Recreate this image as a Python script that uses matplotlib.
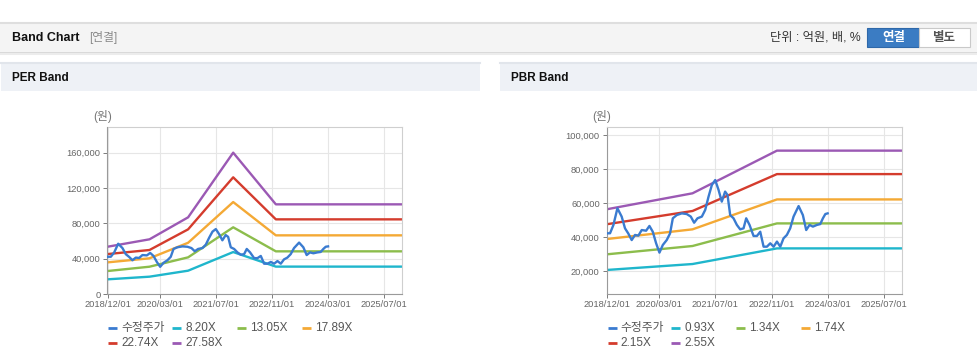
import matplotlib
matplotlib.use("Agg")
import matplotlib.pyplot as plt
import matplotlib.dates as mdates
from matplotlib.patches import Rectangle
from matplotlib.lines import Line2D
import numpy as np
import pandas as pd

plt.rcParams['font.family'] = ['Liberation Sans', 'Noto Sans CJK KR', 'DejaVu Sans']

# ---------------- data ----------------
price_dates = ["2018-12-01", "2018-12-30", "2019-01-28", "2019-03-04", "2019-04-10", "2019-05-09",
               "2019-06-07", "2019-07-06", "2019-08-04", "2019-09-02", "2019-10-01", "2019-11-08",
               "2019-12-07", "2020-01-05", "2020-02-03", "2020-03-03", "2020-04-01", "2020-05-05",
               "2020-06-03", "2020-06-27", "2020-07-31", "2020-09-13", "2020-10-26", "2020-11-30",
               "2020-12-29", "2021-01-27", "2021-03-06", "2021-04-04", "2021-05-03", "2021-06-01",
               "2021-06-30", "2021-07-29", "2021-08-26", "2021-09-24", "2021-10-15", "2021-11-07",
               "2021-12-06", "2022-01-04", "2022-02-02", "2022-03-03", "2022-03-26", "2022-04-24",
               "2022-05-29", "2022-06-27", "2022-07-26", "2022-08-24", "2022-09-22", "2022-10-21",
               "2022-11-19", "2022-12-18", "2023-01-16", "2023-02-13", "2023-03-14", "2023-04-12",
               "2023-05-11", "2023-06-24", "2023-07-31", "2023-08-29", "2023-09-27", "2023-10-26",
               "2023-11-30", "2023-12-29", "2024-01-21", "2024-02-11", "2024-03-02"]
price_values = [42160, 42200, 47000, 56900, 52000, 45100, 42000, 38200, 41200, 40800, 44100, 43700,
                46500, 43100, 36300, 30800, 35300, 38200, 42100, 51000, 52900, 53900, 53500, 52000,
                48400, 51000, 52000, 55900, 63700, 70600, 73500, 67700, 60800, 66700, 64700, 52900,
                51000, 47100, 44500, 45100, 51000, 47100, 40600, 40600, 43100, 34300, 34300, 36300,
                34300, 37300, 34300, 39200, 41200, 45100, 52000, 58200, 52900, 44100, 47100, 46100,
                47100, 47600, 51000, 53500, 53900]

per_band_dates = ["2018-12-01", "2019-12-01", "2020-11-01", "2021-11-28", "2022-12-04", "2025-12-31"]
per_labels = ["8.20X", "13.05X", "17.89X", "22.74X", "27.58X"]
per_820 = [16600, 19600, 26400, 47500, 31000, 31000]
per_1305 = [26000, 30900, 41500, 75500, 48300, 48300]
per_1789 = [35800, 40400, 58000, 104100, 66400, 66400]
per_2274 = [45200, 49800, 73200, 132100, 84500, 84500]
per_2758 = [53500, 61900, 86800, 160000, 101500, 101500]

pbr_band_dates = ["2018-12-01", "2020-12-15", "2022-12-18", "2025-12-31"]
pbr_labels = ["0.93X", "1.34X", "1.74X", "2.15X", "2.55X"]
pbr_093 = [20600, 24100, 33300, 33300]
pbr_134 = [29800, 34700, 48000, 48000]
pbr_174 = [38800, 44500, 62100, 62100]
pbr_215 = [47500, 55300, 77000, 77000]
pbr_255 = [56300, 65700, 90800, 90800]

x_ticks = ["2018-12-01", "2020-03-01", "2021-07-01", "2022-11-01", "2024-03-01", "2025-07-01"]
per_yticks = [0, 40000, 80000, 120000, 160000]
pbr_yticks = [20000, 40000, 60000, 80000, 100000]

price_label = "수정주가"
band_colors = ["#1fb6cc", "#8cbd4c", "#f4a935", "#d43c2d", "#9b59b4"]
price_color = "#3a7bd0"

# ---------------- figure ----------------
W, H = 978, 361
fig = plt.figure(figsize=(W / 100, H / 100), dpi=100)
fig.patch.set_facecolor("white")


def fx(x):
    return x / W


def fy(y):
    return 1 - y / H


def rect(x0, y0, x1, y1, fc, ec="none", lw=0, z=0):
    fig.add_artist(Rectangle((fx(x0), fy(y1)), fx(x1) - fx(x0), fy(y0) - fy(y1),
                             transform=fig.transFigure, facecolor=fc, edgecolor=ec,
                             linewidth=lw, zorder=z))


def hline(x0, x1, y, color, lw=1, z=1):
    fig.add_artist(Line2D([fx(x0), fx(x1)], [fy(y), fy(y)], transform=fig.transFigure,
                          color=color, linewidth=lw, zorder=z))


# top bar
rect(0, 22, W, 52, "#f4f4f4")
hline(0, W, 22.5, "#dedede", 1.5)
hline(0, W, 52.5, "#d2d2d2", 1.2)
hline(0, W, 54, "#ececec", 1.5)
fig.text(fx(12), fy(38), "Band Chart", fontsize=9, fontweight="bold", color="#111111",
         va="center", ha="left")
fig.text(fx(89), fy(38), "[연결]", fontsize=8.5, color="#8a8a8a", va="center", ha="left")
fig.text(fx(861), fy(38), "단위 : 억원, 배, %", fontsize=8.8, color="#333333", va="center", ha="right")
rect(867.5, 27.5, 919, 46.5, "#3b7cc3", ec="#2e68a9", lw=0.8, z=2)
rect(919, 27.5, 969.5, 46.5, "#ffffff", ec="#c9c9c9", lw=0.8, z=2)
fig.text(fx(893.5), fy(37.5), "연결", fontsize=9, fontweight="bold", color="white",
         va="center", ha="center", zorder=3)
fig.text(fx(944), fy(37.5), "별도", fontsize=9, fontweight="bold", color="#555555",
         va="center", ha="center", zorder=3)

# panel headers
for (x0, x1, title) in [(1, 480, "PER Band"), (500, W, "PBR Band")]:
    rect(x0, 62, x1, 91, "#eef1f6")
    hline(x0, x1, 62.5, "#e1e5eb", 1.5)
    fig.text(fx(x0 + 11), fy(78), title, fontsize=8.5, fontweight="bold", color="#111111",
             va="center", ha="left")

xt = pd.to_datetime(x_ticks)
xmin = pd.Timestamp("2018-12-01")
xmax = pd.Timestamp("2025-12-05")


def make_axes(left_px, right_px, ylim, yticks, band_dates, bands, labels):
    ax = fig.add_axes([fx(left_px), fy(294), fx(right_px) - fx(left_px), fy(126.7) - fy(294)])
    bd = pd.to_datetime(band_dates)
    for vals, c in zip(bands, band_colors):
        ax.plot(bd, vals, color=c, lw=1.7, solid_capstyle="butt", zorder=2)
    ax.plot(pd.to_datetime(price_dates), price_values, color=price_color, lw=1.7, zorder=3)
    ax.set_xlim(xmin, xmax)
    ax.set_ylim(*ylim)
    ax.set_xticks(xt)
    ax.xaxis.set_major_formatter(mdates.DateFormatter("%Y/%m/%d"))
    ax.set_yticks(yticks)
    ax.set_yticklabels([f"{v:,}" for v in yticks])
    ax.grid(True, color="#e6e6e6", lw=0.8, zorder=0)
    ax.set_axisbelow(True)
    ax.tick_params(axis="both", labelsize=6.7, colors="#666666", length=3, width=0.6, pad=2)
    ax.tick_params(axis="x", pad=1.5)
    for s in ["top", "right"]:
        ax.spines[s].set_color("#cfcfcf")
        ax.spines[s].set_linewidth(0.8)
    for s in ["left", "bottom"]:
        ax.spines[s].set_color("#9a9a9a")
        ax.spines[s].set_linewidth(0.8)
    fig.text(fx(left_px - 4.8), fy(116), "(원)", fontsize=8.5, color="#777777",
             va="center", ha="center")
    # legend
    rows = [(328.3, 0), (343.3, 4)]
    col_x = [left_px + 1, left_px + 64.5, left_px + 129.5, left_px + 194.5]
    items = [(price_label, price_color)] + list(zip(labels, band_colors))
    order = [(0, 0), (0, 1), (0, 2), (0, 3), (1, 0), (1, 1)]
    for (r, c), (lab, col) in zip(order, items):
        y = rows[r][0]
        x0 = col_x[c]
        fig.add_artist(Line2D([fx(x0), fx(x0 + 9)], [fy(y), fy(y)], transform=fig.transFigure,
                              color=col, lw=2, solid_capstyle="butt"))
        fig.text(fx(x0 + 13), fy(y), lab, fontsize=8.5, color="#555555", va="center", ha="left")
    return ax


ax1 = make_axes(107.5, 402, (0, 189400), per_yticks, per_band_dates,
                [per_820, per_1305, per_1789, per_2274, per_2758], per_labels)
ax2 = make_axes(606.7, 901.7, (6470, 104880), pbr_yticks, pbr_band_dates,
                [pbr_093, pbr_134, pbr_174, pbr_215, pbr_255], pbr_labels)

fig.savefig("out.png", dpi=100)
